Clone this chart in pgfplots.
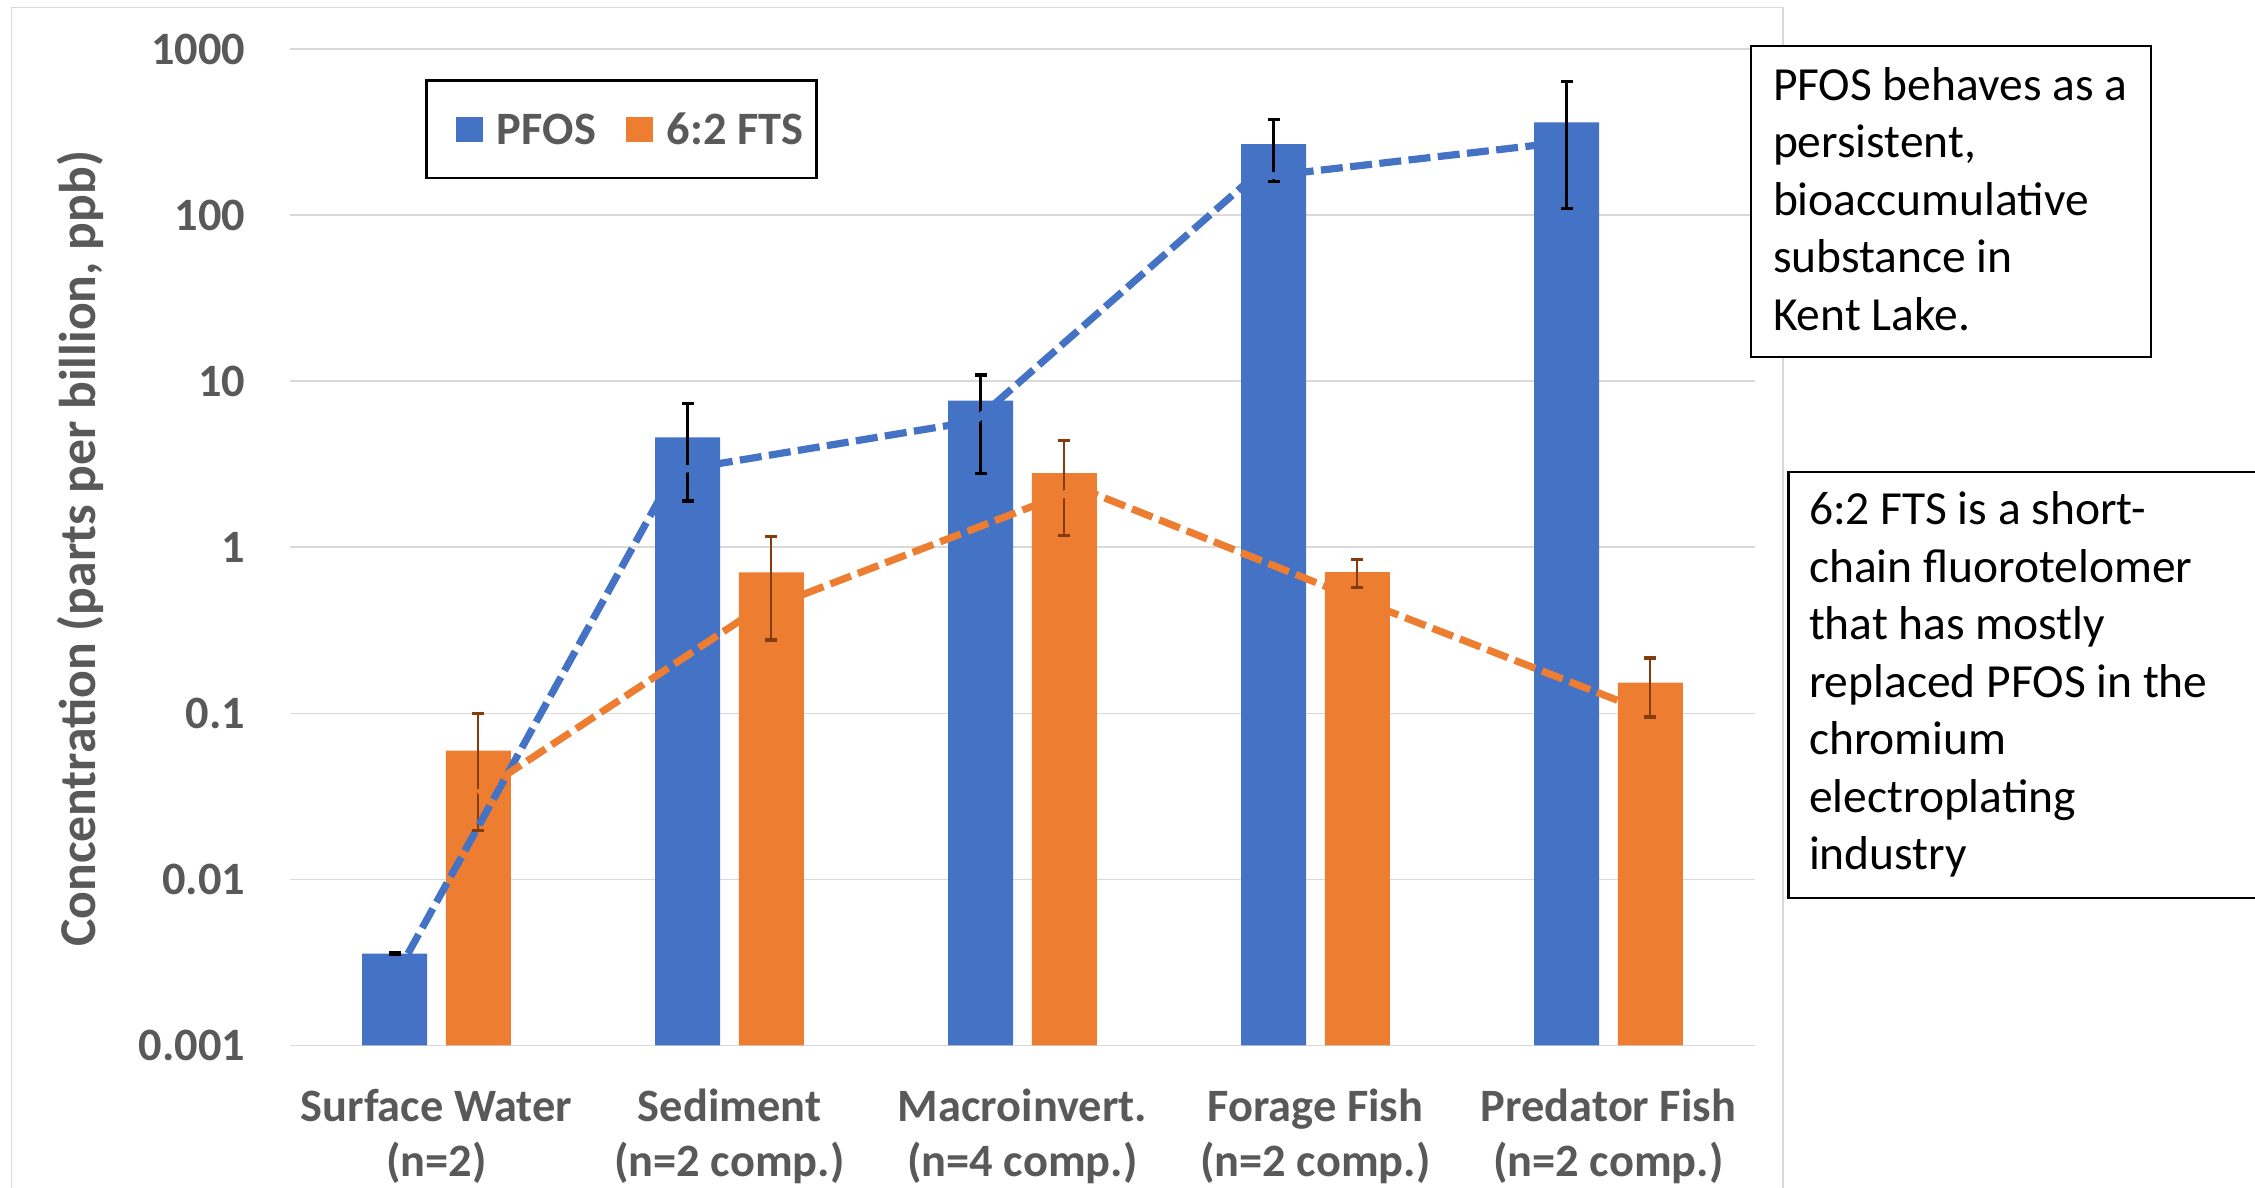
\documentclass[border=0pt]{standalone}
\usepackage{pgfplots}
\pgfplotsset{compat=1.18}
\usepackage{fontspec}
\setmainfont{Carlito}
\definecolor{pfos}{HTML}{4472C4}
\definecolor{fts}{HTML}{ED7D31}
\definecolor{ftserr}{HTML}{843C0C}
\definecolor{tickgray}{HTML}{595959}
\definecolor{gridgray}{HTML}{D9D9D9}
\newcommand\cat[2]{\begin{tabular}[t]{@{}c@{}}#1\\#2\end{tabular}}
\newcommand\tickfont{\fontsize{23.2pt}{27.5pt}\selectfont\bfseries}
\newcommand\ylabfont{\fontsize{25.85pt}{30pt}\selectfont\bfseries}
\newcommand\boxfont{\fontsize{23.75pt}{28.75pt}\selectfont}
\pgfplotsset{sqlegend/.style={legend image code/.code={%
  \path[draw=none,fill=none] (0pt,-6.25pt) rectangle (21.85pt,6.25pt);
  \fill[##1,draw=none] (8.35pt,-6.25pt) rectangle (21.85pt,6.25pt);}}}
\begin{document}
\begin{tikzpicture}
\begin{scope}[x=0.5pt,y=-0.5pt,shift={(0pt,594pt)}]
\draw[gridgray, line width=0.75pt] (11.5,7.7) rectangle (1783,1215);
\end{scope}
\begin{axis}[
  at={(145pt,71.3pt)}, anchor=south west,
  width=732.5pt, height=498.2pt, scale only axis,
  ymode=log, log origin y=infty,
  ymin=0.001, ymax=1000, xmin=-0.5, xmax=4.5,
  ytick={0.001,0.01,0.1,1,10,100,1000},
  yticklabels={0.001,0.01,0.1,1,10,100,1000},
  yminorticks=false,
  xtick={0,1,2,3,4},
  xticklabels={\cat{Surface Water}{(n=2)},\cat{Sediment}{(n=2 comp.)},\cat{Macroinvert.}{(n=4 comp.)},\cat{Forage Fish}{(n=2 comp.)},\cat{Predator Fish}{(n=2 comp.)}},
  ymajorgrids, grid style={draw=gridgray, line width=0.75pt},
  axis line style={draw=none}, major tick length=0pt, tick style={draw=none},
  xticklabel style={font=\tickfont, text=tickgray, anchor=base, inner sep=0pt, yshift=-37.8pt},
  yticklabel style={font=\tickfont, text=tickgray, anchor=east, inner sep=0pt, xshift=-22.25pt},
  ylabel={Concentration (parts per billion, ppb)},
  ylabel style={at={(axis description cs:-0.1326,0.4982)}, anchor=base, font=\ylabfont, text=tickgray, inner sep=0pt},
  legend columns=2,
  legend style={at={(rel axis cs:0.09215,0.9699)}, anchor=north west, draw=black, line width=1.3pt, fill=white,
    font=\tickfont, text=tickgray, inner xsep=6.5pt, inner ysep=17pt,
    nodes={inner sep=0pt, text height=14.9pt, text depth=0pt},
    column sep=7pt, /tikz/every even column/.append style={column sep=6.65pt}},
  unbounded coords=jump,
]
\addplot[ybar, bar width=0.2218, bar shift=0pt, fill=pfos, draw=none, sqlegend]
  coordinates {(-0.1427,0.00357) (0.8573,4.59) (1.8573,7.62) (2.8573,267) (3.8573,362)};
\addlegendentry{PFOS}
\addplot[ybar, bar width=0.2218, bar shift=0pt, fill=fts, draw=none, sqlegend]
  coordinates {(0.1427,0.0595) (1.1427,0.706) (2.1427,2.79) (3.1427,0.709) (4.1427,0.153)};
\addlegendentry{6:2 FTS}
% error bars
\addplot[black, line width=1.3pt, mark=-, mark size=3pt, mark options={line width=1.6pt}, forget plot]
  coordinates {(-0.1427,0.00352) (-0.1427,0.00362) (-0.1427,nan)
               (0.8573,1.90) (0.8573,7.35) (0.8573,nan)
               (1.8573,2.77) (1.8573,10.9) (1.8573,nan)
               (2.8573,160) (2.8573,377) (2.8573,nan)
               (3.8573,110) (3.8573,636)};
\addplot[ftserr, line width=1pt, mark=-, mark size=3pt, mark options={line width=1.6pt}, forget plot]
  coordinates {(0.1427,0.0197) (0.1427,0.100) (0.1427,nan)
               (1.1427,0.276) (1.1427,1.157) (1.1427,nan)
               (2.1427,1.18) (2.1427,4.38) (2.1427,nan)
               (3.1427,0.573) (3.1427,0.845) (3.1427,nan)
               (4.1427,0.095) (4.1427,0.215)};
% dashed connector lines
\addplot[pfos, line width=3.6pt, dash pattern=on 11pt off 3.7pt, forget plot]
  coordinates {(-0.0973,0.00357) (0.814,2.88) (1.838,5.75) (2.783,167) (3.817,271)};
\addplot[fts, line width=3.6pt, dash pattern=on 11pt off 3.7pt, forget plot]
  coordinates {(0.1416,0.0329) (1.0597,0.385) (2.196,2.27) (3.1416,0.488) (4.1075,0.106)};
\end{axis}
\begin{scope}[x=0.5pt,y=-0.5pt,shift={(0pt,594pt)}]
\draw[black, line width=1.2pt, fill=white] (1751,46) rectangle (2151,357);
\node[anchor=base west, inner sep=0pt, font=\boxfont] at (1772.6,100.4)
  {\begin{minipage}[t]{190pt}\boxfont PFOS behaves as a\\persistent,\\bioaccumulative\\substance in\\Kent Lake.\end{minipage}};
\draw[black, line width=1.2pt, fill=white] (1788.6,472) rectangle (2290,898);
\node[anchor=base west, inner sep=0pt, font=\boxfont] at (1808.6,525)
  {\begin{minipage}[t]{220pt}\boxfont 6:2 FTS is a short-\\chain fluorotelomer\\that has mostly\\replaced PFOS in the\\chromium\\electroplating\\industry\end{minipage}};
\end{scope}
\pgfresetboundingbox
\path (0pt,0pt) rectangle (1127.5pt,594pt);
\end{tikzpicture}
\end{document}
